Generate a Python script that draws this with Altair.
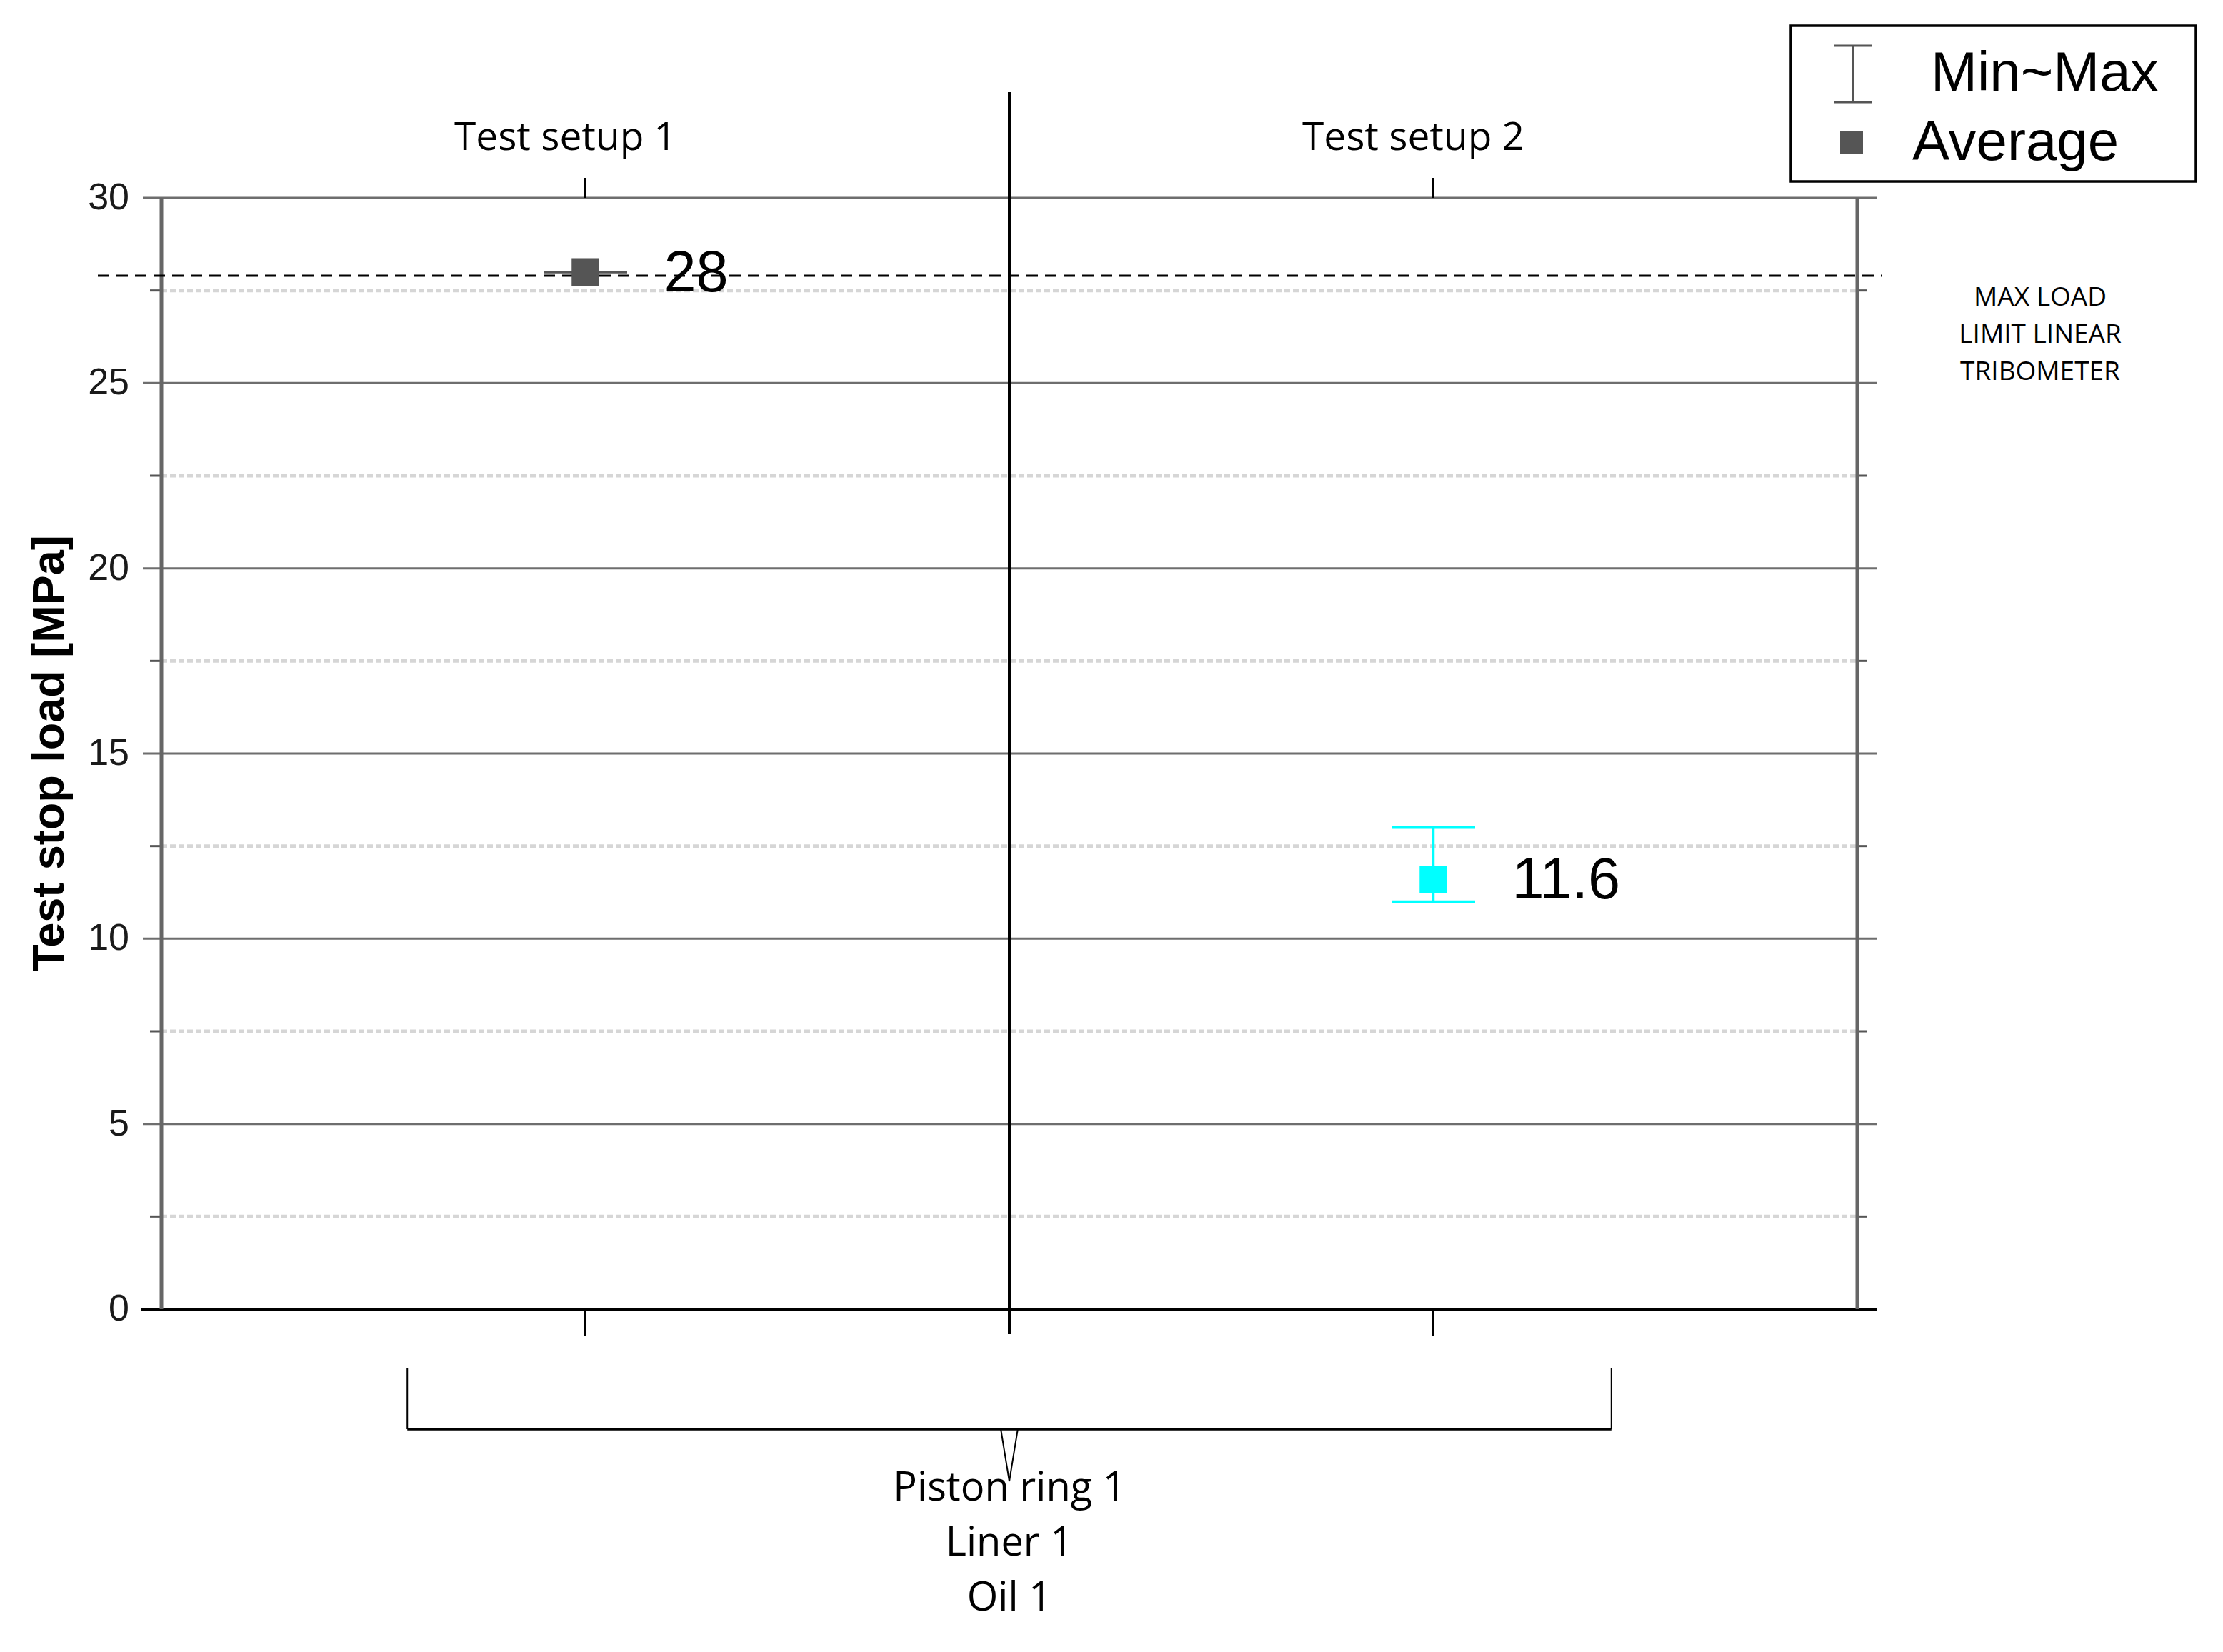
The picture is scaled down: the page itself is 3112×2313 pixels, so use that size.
import altair as alt
import pandas as pd

# ---- data ----
categories = ["Test setup 1", "Test setup 2"]
avg_values = [28.0, 11.6]
min_values = [28.0, 11.0]
max_values = [28.0, 13.0]
major_ticks = [0, 5, 10, 15, 20, 25, 30]
minor_ticks = [2.5, 7.5, 12.5, 17.5, 22.5, 27.5]
max_load_limit = 27.9
max_load_label = ["MAX LOAD", "LIMIT LINEAR", "TRIBOMETER"]
group_label = ["Piston ring 1", "Liner 1", "Oil 1"]
legend_labels = ["Min~Max", "Average"]
y_title = "Test stop load [MPa]"

# ---- styles ----
series_colors = ["#555555", "#00ffff"]
W, H = 2374, 1556

df = pd.DataFrame({
    "setup": categories,
    "idx": list(range(len(categories))),
    "avg": avg_values,
    "lo": min_values,
    "hi": max_values,
})
one = pd.DataFrame({"k": [0]})
minor_df = pd.DataFrame({"v": minor_ticks})
major_df = pd.DataFrame({"v": major_ticks})

xscale = alt.Scale(domain=[-0.5, len(categories) - 0.5], nice=False, zero=False)
yscale = alt.Scale(domain=[min(major_ticks), max(major_ticks)], nice=False, zero=False)


def X(field):
    return alt.X(field, type="quantitative", scale=xscale, axis=None)


def Y(field):
    return alt.Y(field, type="quantitative", scale=yscale, axis=None)


color = alt.Color("setup:N", scale=alt.Scale(domain=categories, range=series_colors), legend=None)

minor_grid = alt.Chart(minor_df).mark_rule(color="#d6d6d6", strokeWidth=5, strokeDash=[8, 4]).encode(
    y=Y("v"), x=alt.value(0), x2=alt.value(W))
minor_tick_l = alt.Chart(minor_df).mark_rule(color="#555555", strokeWidth=3).encode(
    y=Y("v"), x=alt.value(-16), x2=alt.value(0))
minor_tick_r = alt.Chart(minor_df).mark_rule(color="#555555", strokeWidth=3).encode(
    y=Y("v"), x=alt.value(W), x2=alt.value(W + 13))

major_grid = alt.Chart(major_df).transform_filter("datum.v > 0").mark_rule(
    color="#6e6e6e", strokeWidth=3).encode(
    y=Y("v"), x=alt.value(-26), x2=alt.value(W + 27))
zero_line = alt.Chart(major_df).transform_filter("datum.v == 0").mark_rule(
    color="black", strokeWidth=4).encode(
    y=Y("v"), x=alt.value(-28), x2=alt.value(W + 27))

y_labels = alt.Chart(major_df).mark_text(
    font="Liberation Sans", fontSize=52, align="right", baseline="middle", color="#1a1a1a").encode(
    y=Y("v"), x=alt.value(-45), text=alt.Text("v:Q", format="d"))
y_title_mark = alt.Chart(one).mark_text(
    font="Liberation Sans", fontSize=63, fontWeight="bold", angle=270, align="center",
    baseline="alphabetic", color="black").encode(
    x=alt.value(-137), y=alt.value(H / 2), text=alt.value(y_title))

frame_l = alt.Chart(major_df).transform_aggregate(lo="min(v)", hi="max(v)").mark_rule(
    color="#666666", strokeWidth=5).encode(x=alt.value(0), y=Y("lo"), y2="hi")
frame_r = alt.Chart(major_df).transform_aggregate(lo="min(v)", hi="max(v)").mark_rule(
    color="#666666", strokeWidth=5).encode(x=alt.value(W), y=Y("lo"), y2="hi")

divider = alt.Chart(df).transform_aggregate(m="mean(idx)").mark_rule(
    color="black", strokeWidth=4).encode(x=X("m"), y=alt.value(-148), y2=alt.value(H + 35))

top_ticks = alt.Chart(df).mark_rule(color="black", strokeWidth=3).encode(
    x=X("idx"), y=alt.value(-28), y2=alt.value(0))
bottom_ticks = alt.Chart(df).mark_rule(color="black", strokeWidth=3).encode(
    x=X("idx"), y=alt.value(H), y2=alt.value(H + 37))
top_labels = alt.Chart(df).mark_text(
    font="Open Sans", fontSize=55, dx=-28, align="center", baseline="alphabetic", color="black").encode(
    x=X("idx"), y=alt.value(-67), text="setup:N")

max_load = alt.Chart(pd.DataFrame({"v": [max_load_limit]})).mark_rule(
    color="black", strokeWidth=3, strokeDash=[16, 10]).encode(
    y=Y("v"), x=alt.value(-89), x2=alt.value(2409))

err = alt.Chart(df).mark_rule(strokeWidth=3.5).encode(x=X("idx"), y=Y("lo"), y2="hi", color=color)
caps = alt.Chart(df).transform_fold(["lo", "hi"], as_=["k", "val"]).mark_tick(
    orient="horizontal", size=117, thickness=3.5, opacity=1).encode(
    x=X("idx"), y=Y("val"), color=color)
markers = alt.Chart(df).mark_square(size=1480, opacity=1).encode(x=X("idx"), y=Y("avg"), color=color)
value_labels = alt.Chart(df).mark_text(
    font="Liberation Sans", fontSize=81, align="left", baseline="middle", dx=110, dy=3, color="black").encode(
    x=X("idx"), y=Y("avg"), text=alt.Text("avg:Q", format=".3~g"))

# ---- brace under the two setups ----
brace_base = alt.Chart(df).transform_aggregate(m="mean(idx)").transform_calculate(
    l="datum.m - 0.71", r="datum.m + 0.71", tl="datum.m - 0.01", tr="datum.m + 0.01")
brace_h = brace_base.mark_rule(color="black", strokeWidth=3.5).encode(
    x=X("l"), x2="r", y=alt.value(1724))
brace_arm_l = brace_base.mark_rule(color="black", strokeWidth=2).encode(
    x=X("l"), y=alt.value(1638), y2=alt.value(1724))
brace_arm_r = brace_base.mark_rule(color="black", strokeWidth=2).encode(
    x=X("r"), y=alt.value(1638), y2=alt.value(1724))
brace_tip_l = brace_base.mark_rule(color="black", strokeWidth=2).encode(
    x=X("tl"), x2="m", y=alt.value(1724), y2=alt.value(1797))
brace_tip_r = brace_base.mark_rule(color="black", strokeWidth=2).encode(
    x=X("tr"), x2="m", y=alt.value(1724), y2=alt.value(1797))
group_text = brace_base.mark_text(
    font="Open Sans", fontSize=56, lineHeight=77, align="center", baseline="middle", color="black").encode(
    x=X("m"), y=alt.value(1807), text=alt.value(group_label))

# ---- annotation text ----
max_load_text = alt.Chart(one).mark_text(
    font="Open Sans", fontSize=37, lineHeight=52, align="center", baseline="middle", color="black").encode(
    x=alt.value(2630), y=alt.value(140), text=alt.value(max_load_label))

# ---- legend ----
leg_box = alt.Chart(one).mark_rect(fill="white", stroke="black", strokeWidth=3.5).encode(
    x=alt.value(2281), x2=alt.value(2848), y=alt.value(-241), y2=alt.value(-23))
leg_bar = alt.Chart(one).mark_rule(color="#555555", strokeWidth=3).encode(
    x=alt.value(2368), y=alt.value(-213), y2=alt.value(-134))
leg_cap_t = alt.Chart(one).mark_rule(color="#555555", strokeWidth=3).encode(
    x=alt.value(2342), x2=alt.value(2394), y=alt.value(-213))
leg_cap_b = alt.Chart(one).mark_rule(color="#555555", strokeWidth=3).encode(
    x=alt.value(2342), x2=alt.value(2394), y=alt.value(-134))
leg_sq = alt.Chart(one).mark_square(size=1024, color="#555555", opacity=1).encode(
    x=alt.value(2366), y=alt.value(-77))
leg_t1 = alt.Chart(one).mark_text(
    font="Liberation Sans", fontSize=78, align="left", baseline="middle", color="black").encode(
    x=alt.value(2477), y=alt.value(-173), text=alt.value(legend_labels[0]))
leg_t2 = alt.Chart(one).mark_text(
    font="Liberation Sans", fontSize=78, align="left", baseline="middle", color="black").encode(
    x=alt.value(2451), y=alt.value(-76), text=alt.value(legend_labels[1]))

chart = alt.layer(
    minor_grid, minor_tick_l, minor_tick_r, major_grid, zero_line, y_labels, y_title_mark,
    frame_l, frame_r, divider, top_ticks, bottom_ticks, top_labels, max_load,
    err, caps, markers, value_labels,
    brace_h, brace_arm_l, brace_arm_r, brace_tip_l, brace_tip_r, group_text,
    max_load_text, leg_box, leg_bar, leg_cap_t, leg_cap_b, leg_sq, leg_t1, leg_t2,
).properties(
    width=W, height=H,
    padding={"left": 218, "top": 269, "right": 495, "bottom": 460},
    autosize=alt.AutoSizeParams(type="none"),
    background="white",
).configure_view(stroke=None)

chart.save("out.html", embed_options={"renderer": "svg", "actions": False})
